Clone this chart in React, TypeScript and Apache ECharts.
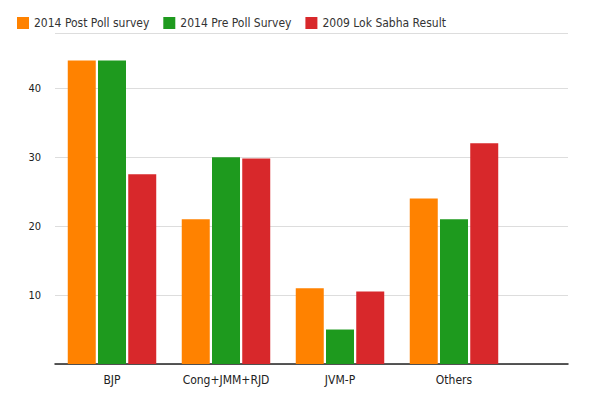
import React, { useEffect, useRef } from 'react';
import * as echarts from 'echarts';

const categories = ['BJP', 'Cong+JMM+RJD', 'JVM-P', 'Others'];
const seriesNames = ['2014 Post Poll survey', '2014 Pre Poll Survey', '2009 Lok Sabha Result'];
const postPoll = [44, 21, 11, 24];
const prePoll = [44, 30, 5, 21];
const result2009 = [27.5, 29.8, 10.5, 32];
const colors = ['#ff8200', '#1e9a1e', '#d8282b'];

const App: React.FC = () => {
    const chartRef = useRef<HTMLDivElement>(null);

    useEffect(() => {
        if (!chartRef.current) return;
        const chart = echarts.init(chartRef.current, undefined, { renderer: 'svg' });
        const font = '"Liberation Sans Narrow", "DejaVu Sans Condensed", sans-serif';
        const toPoints = (vals: number[]) => vals.map((v, i) => [i + 0.5, v]);
        chart.setOption({
            animation: false,
            textStyle: { fontFamily: font },
            color: colors,
            legend: {
                left: 4,
                top: 4,
                icon: 'rect',
                itemWidth: 12,
                itemHeight: 12,
                itemGap: 14,
                textStyle: { fontSize: 12, color: '#333', fontFamily: font },
                data: seriesNames,
            },
            grid: { left: 47, right: 24, top: 25, bottom: 28 },
            xAxis: {
                type: 'value',
                min: 0,
                max: 4.5,
                interval: 0.5,
                splitLine: { show: false },
                axisTick: { show: false },
                axisLine: { show: true, lineStyle: { color: '#222', width: 1.5 } },
                axisLabel: {
                    color: '#222',
                    fontSize: 12,
                    margin: 10,
                    formatter: (v: number) => {
                        const i = Math.floor(v);
                        return Math.abs(v - i - 0.5) < 1e-6 && categories[i] ? categories[i] : '';
                    },
                },
            },
            yAxis: {
                type: 'value',
                min: 0,
                max: 48,
                interval: 10,
                axisLine: { show: false },
                axisTick: { show: false },
                splitLine: { lineStyle: { color: '#ddd' } },
                axisLabel: {
                    color: '#222',
                    fontSize: 11,
                    margin: 14,
                    formatter: (v: number) => (v === 0 || v % 10 !== 0 ? '' : String(v)),
                },
            },
            series: [postPoll, prePoll, result2009].map((vals, k) => ({
                name: seriesNames[k],
                type: 'bar',
                barWidth: 28,
                barGap: '8%',
                data: toPoints(vals),
            })),
        });
        return () => chart.dispose();
    }, []);

    return <div ref={chartRef} style={{ width: 584, height: 384 }} />;
};

export default App;
